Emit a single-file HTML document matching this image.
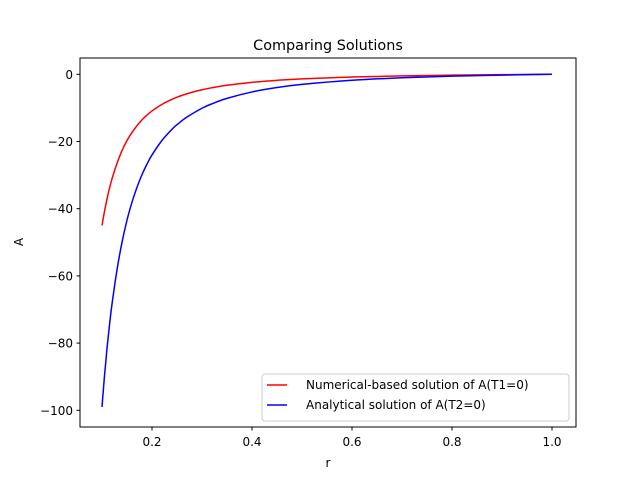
<!DOCTYPE html>
<html><head><meta charset="utf-8"><style>
body{margin:0;background:#fff}
svg text{font-family:"DejaVu Sans","Liberation Sans",sans-serif;fill:#000}
</style></head><body>
<svg id="chart" width="640" height="480" viewBox="0 0 640 480">
<rect width="640" height="480" fill="#fff"/>
<text x="328" y="50" font-size="14.4" text-anchor="middle">Comparing Solutions</text>
<g id="ticks"></g>
<g id="series"></g>
<rect x="80" y="58" width="496" height="369" fill="none" stroke="#000" stroke-width="1"/>
<text x="328" y="467" font-size="12" text-anchor="middle">r</text>
<text x="23" y="242" font-size="12" text-anchor="middle" transform="rotate(-90 23 242)">A</text>
<g>
<rect x="262" y="374" width="307" height="47" rx="3" fill="#fff" fill-opacity="0.8" stroke="#ccc"/>
<line x1="267" y1="385" x2="287" y2="385" stroke="#f00" stroke-width="1.5"/>
<text x="306" y="389" font-size="12">Numerical-based solution of A(T1=0)</text>
<line x1="267" y1="405" x2="287" y2="405" stroke="#00f" stroke-width="1.5"/>
<text x="306" y="409" font-size="12">Analytical solution of A(T2=0)</text>
</g>
</svg>
<script>
const rValues = [0.1,0.105,0.11,0.115,0.12,0.13,0.14,0.15,0.16,0.17,0.18,0.19,0.2,0.22,0.24,0.25,0.27,0.3,0.32,0.35,0.4,0.45,0.5,0.6,0.7,0.8,0.9,1.0];
const numericalA = [-45,-40.8,-37.1,-33.9,-31.1,-26.5,-22.7,-19.7,-17.30,-15.3,-13.57,-12.14,-10.9,-8.94,-7.44,-6.8,-5.78,-4.6,-3.99,-3.25,-2.39,-1.79,-1.36,-0.81,-0.47,-0.26,-0.10,0];
const analyticalA = [-99,-89.7,-81.6,-74.6,-68.4,-58.2,-50.0,-43.4,-38.06,-33.6,-29.86,-26.70,-24,-19.66,-16.36,-15,-12.72,-10.1,-8.77,-7.16,-5.25,-3.94,-3,-1.78,-1.04,-0.56,-0.23,0];
const xTicks = [0.2,0.4,0.6,0.8,1.0];
const xTickLabels = ["0.2","0.4","0.6","0.8","1.0"];
const yTicks = [0,-20,-40,-60,-80,-100];
const yTickLabels = ["0","\u221220","\u221240","\u221260","\u221280","\u2212100"];

const NS="http://www.w3.org/2000/svg";
function xs(v){return 102+(v-0.1)*500;}
function ys(v){return 74.3-v*3.36;}
const tg=document.getElementById('ticks');
xTicks.forEach((t,i)=>{
  const l=document.createElementNS(NS,'line');
  l.setAttribute('x1',xs(t));l.setAttribute('x2',xs(t));l.setAttribute('y1',427);l.setAttribute('y2',430.5);
  l.setAttribute('stroke','#000');
  
  
  tg.appendChild(l);
  const tx=document.createElementNS(NS,'text');
  tx.setAttribute('x',xs(t));tx.setAttribute('y',446);tx.setAttribute('font-size','12');tx.setAttribute('text-anchor','middle');
  tx.textContent=xTickLabels[i];
  
  
  tg.appendChild(tx);
});
yTicks.forEach((t,i)=>{
  const l=document.createElementNS(NS,'line');
  l.setAttribute('x1',76.5);l.setAttribute('x2',80);l.setAttribute('y1',ys(t));l.setAttribute('y2',ys(t));
  l.setAttribute('stroke','#000');
  
  
  tg.appendChild(l);
  const tx=document.createElementNS(NS,'text');
  tx.setAttribute('x',73);tx.setAttribute('y',ys(t)+4.5);tx.setAttribute('font-size','12');tx.setAttribute('text-anchor','end');
  tx.textContent=yTickLabels[i];
  
  
  tg.appendChild(tx);
});
function pathFor(vals){
  const p=rValues.map((r,i)=>[xs(r),ys(vals[i])]);
  let d='M'+p[0][0]+','+p[0][1];
  for(let i=0;i<p.length-1;i++){
    const p0=p[Math.max(0,i-1)],p1=p[i],p2=p[i+1],p3=p[Math.min(p.length-1,i+2)];
    const c1=[p1[0]+(p2[0]-p0[0])/6,p1[1]+(p2[1]-p0[1])/6];
    const c2=[p2[0]-(p3[0]-p1[0])/6,p2[1]-(p3[1]-p1[1])/6];
    d+=' C'+c1+' '+c2+' '+p2;
  }
  return d;
}
const sg=document.getElementById('series');
const red=document.createElementNS(NS,'path');
red.setAttribute('d',pathFor(numericalA));red.setAttribute('fill','none');red.setAttribute('stroke','#f00');red.setAttribute('stroke-width','1.5');


sg.appendChild(red);
const blue=document.createElementNS(NS,'path');
blue.setAttribute('d',pathFor(analyticalA));blue.setAttribute('fill','none');blue.setAttribute('stroke','#00f');blue.setAttribute('stroke-width','1.5');


sg.appendChild(blue);
</script>
</body></html>
